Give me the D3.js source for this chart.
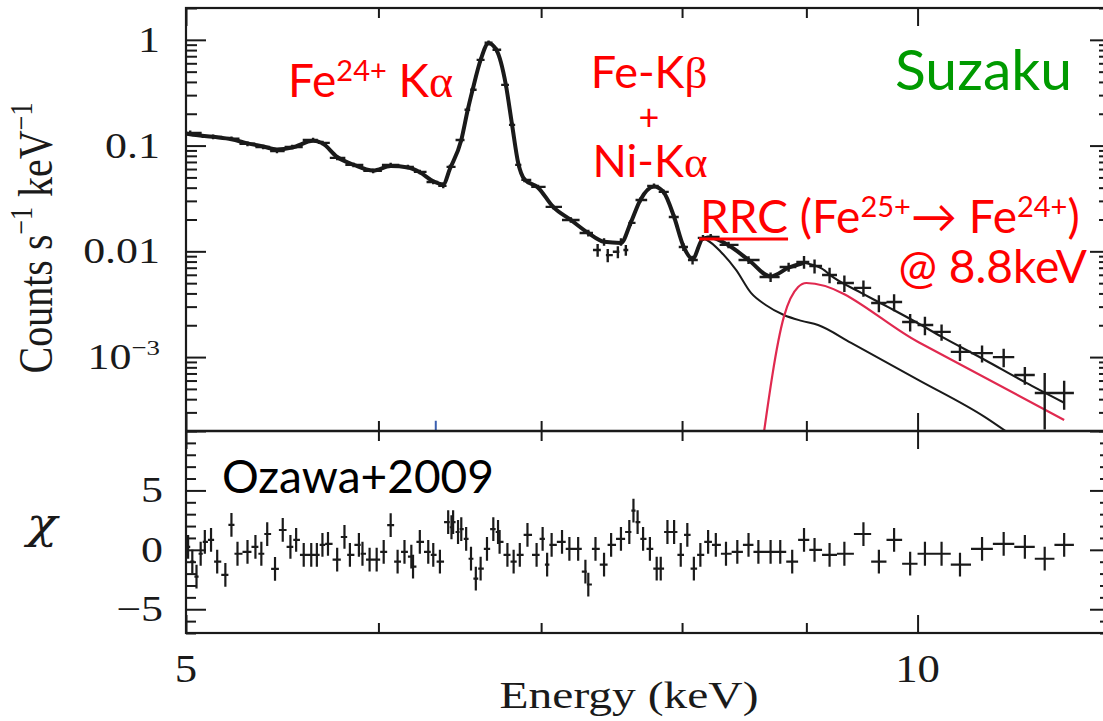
<!DOCTYPE html>
<html>
<head>
<meta charset="utf-8">
<script src="https://cdn.jsdelivr.net/npm/d3@7"></script>
<style>
body { margin:0; background:#fff; }
svg { display:block; }
</style>
</head>
<body>
<script>
// ---- spectrum data points (keV, counts s-1 keV-1, 1 sigma) ----
var dataE = [5.02, 5.13, 5.22, 5.30, 5.38, 5.45, 5.53, 5.64, 5.69, 5.77,
             5.86, 5.97, 6.07, 6.17, 6.24, 6.32, 6.38, 6.42, 6.49, 6.53,
             6.56, 6.61, 6.66, 6.71, 6.77, 6.81, 6.85, 6.89, 6.98, 7.08,
             7.20, 7.32, 7.385, 7.43, 7.456, 7.528, 7.55, 7.585, 7.62, 7.69,
             7.79, 7.86, 7.94, 8.01, 8.08, 8.16, 8.22, 8.36, 8.52, 8.70,
             8.85, 8.98, 9.07, 9.20, 9.33, 9.50, 9.64, 9.78, 9.93, 10.07,
             10.23, 10.41, 10.63, 10.85, 11.07, 11.28, 11.49];
var dataC = [0.132, 0.121, 0.116, 0.104, 0.097, 0.089, 0.097, 0.113, 0.106, 0.0765,
             0.0657, 0.0576, 0.0657, 0.0629, 0.0564, 0.0453, 0.0416, 0.0629, 0.113, 0.218,
             0.337, 0.647, 0.937, 0.805, 0.375, 0.157, 0.0657, 0.0474, 0.0407, 0.0263,
             0.0198, 0.0149, 0.0103, 0.0123, 0.0092, 0.0099, 0.0123, 0.0103, 0.0186, 0.0306,
             0.0416, 0.0365, 0.0211, 0.0110, 0.00829, 0.0134, 0.0137, 0.0115, 0.00829, 0.00572,
             0.00712, 0.00794, 0.00727, 0.00598, 0.00502, 0.00451, 0.00325, 0.00332, 0.00215, 0.00201,
             0.00173, 0.00112, 0.00109, 0.00100, 0.000677, 0.000457, 0.000457];
var dataErr = [0.0066, 0.0060, 0.0058, 0.0052, 0.0049, 0.0045, 0.0049, 0.0057, 0.0053, 0.0038,
               0.0033, 0.0029, 0.0033, 0.0031, 0.0028, 0.0023, 0.0021, 0.0031, 0.0057, 0.011,
               0.017, 0.032, 0.047, 0.040, 0.019, 0.0079, 0.0033, 0.0024, 0.0020, 0.0013,
               0.0012, 0.0011, 0.0014, 0.0010, 0.0013, 0.0013, 0.0010, 0.0012, 0.0012, 0.0017,
               0.0021, 0.0019, 0.0013, 0.0009, 0.0008, 0.0009, 0.0009, 0.0008, 0.0007, 0.0006,
               0.0007, 0.0011, 0.0011, 0.0010, 0.0009, 0.0008, 0.0006, 0.0006, 0.0004, 0.0004,
               0.0003, 0.0002, 0.0002, 0.0002, 0.00013, 0.00025, 0.00014];

// ---- best fit model (total) ----
var modelE = [5.00, 5.02, 5.13, 5.22, 5.30, 5.38, 5.45, 5.53, 5.64, 5.69,
              5.77, 5.86, 5.97, 6.07, 6.17, 6.24, 6.32, 6.38, 6.42, 6.49,
              6.53, 6.56, 6.61, 6.66, 6.71, 6.77, 6.81, 6.85, 6.89, 6.98,
              7.08, 7.20, 7.32, 7.43, 7.55, 7.62, 7.69, 7.79, 7.86, 7.94,
              8.01, 8.08, 8.16, 8.22, 8.36, 8.52, 8.70, 8.85, 8.98, 9.13,
              9.24, 9.48, 9.73, 10.0, 10.23, 10.65, 11.07, 11.49];
var modelC = [0.130, 0.128, 0.121, 0.115, 0.105, 0.098, 0.092, 0.096, 0.111, 0.105,
              0.078, 0.066, 0.058, 0.064, 0.062, 0.056, 0.046, 0.043, 0.060, 0.113,
              0.218, 0.337, 0.647, 0.930, 0.800, 0.375, 0.157, 0.068, 0.048, 0.040,
              0.0263, 0.0198, 0.0149, 0.0123, 0.0120, 0.0186, 0.0306, 0.0410, 0.0365, 0.0211,
              0.0112, 0.0085, 0.0132, 0.0135, 0.0114, 0.0083, 0.0058, 0.0070, 0.0078, 0.0069,
              0.0056, 0.00405, 0.00295, 0.00210, 0.00156, 0.00095, 0.00058, 0.00037];

// model without the RRC
var contE = [8.16, 8.19, 8.30, 8.42, 8.54, 8.66, 8.81, 8.96, 9.10, 9.39, 10.01, 10.66, 10.93];
var contC = [0.0132, 0.0128, 0.00987, 0.00667, 0.00404, 0.00311, 0.00250, 0.00220, 0.00201, 0.00136, 0.000607, 0.000271, 0.000183];

// RRC component (Fe25+ -> Fe24+)
var rrcE = [8.62, 8.81, 8.93, 9.00, 10.01, 11.49];
var rrcC = [0.00012, 0.0024, 0.0046, 0.00502, 0.00138, 0.000254];

// stray blue mark near the bottom of the upper panel
var blueE = [6.335];
var blueC = [0.00025];

// ---- residuals (chi) ----
var chiE = [5.01, 5.03, 5.05, 5.07, 5.09, 5.12, 5.15, 5.19, 5.22, 5.25,
            5.30, 5.34, 5.37, 5.40, 5.44, 5.48, 5.52, 5.55, 5.59, 5.63,
            5.66, 5.69, 5.72, 5.77, 5.81, 5.84, 5.89, 5.91, 5.95, 5.99,
            6.03, 6.07, 6.11, 6.15, 6.19, 6.20, 6.24, 6.29, 6.32, 6.36,
            6.41, 6.43, 6.44, 6.47, 6.49, 6.52, 6.55, 6.58, 6.61, 6.65,
            6.69, 6.72, 6.73, 6.78, 6.82, 6.86, 6.91, 6.97, 7.01, 7.04,
            7.07, 7.14, 7.19, 7.25, 7.30, 7.32, 7.37, 7.43, 7.48, 7.55,
            7.61, 7.64, 7.67, 7.71, 7.76, 7.81, 7.84, 7.89, 7.94, 7.99,
            8.04, 8.09, 8.14, 8.20, 8.26, 8.34, 8.43, 8.52, 8.60, 8.70,
            8.78, 8.88, 8.98, 9.07, 9.20, 9.33, 9.50, 9.64, 9.78, 9.93,
            10.07, 10.23, 10.41, 10.63, 10.85, 11.07, 11.28, 11.49];
var chiV = [0.25, -1.0, -2.25, -0.33, 0.67, 0.83, -1.0, -2.1, 2.1, -0.33,
            -0.17, 0.25, -0.33, 1.33, -1.6, 1.67, 0.25, 0.83, -0.42, -0.42,
            -0.42, 0.42, 0.5, -0.83, 1.08, -0.42, 0.42, -0.33, -0.83, -0.83,
            -0.17, 2.08, -1.0, -0.17, -0.58, -1.42, 0.67, -0.17, -0.42, -1.0,
            2.33, 1.9, 2.33, 1.5, 1.75, 0.92, -0.75, -2.42, -1.58, 0.08,
            1.75, 1.5, 0.67, -0.42, -1.0, -0.42, 1.25, -0.42, 0.92, -1.25,
            0.42, 0.67, 0.08, 0.08, -1.83, -2.92, 0.08, -1.25, 0.42, 0.92,
            1.5, 3.3, 2.33, 0.92, 0.08, -1.58, -1.58, 1.5, 1.5, -0.42,
            1.25, -1.58, -0.42, 0.67, 0.42, -0.33, -0.17, 0.42, -0.17, -0.17,
            -0.17, -1.0, 0.83, 0.0, -0.42, -0.33, 1.33, -1.0, 0.83, -1.17,
            -0.33, -0.33, -1.25, 0.08, 0.5, 0.25, -0.75, 0.42];

// ---- tick labels ----
var xMajor = [5, 10];
var xMinor = [6, 7, 8, 9];
var yLabelVals = [1, 0.1, 0.01, 0.001];
var yLabelText = ["1", "0.1", "0.01", "10"];
var yLabelSup = ["", "", "", "\u22123"];
var chiLabelVals = [5, 0, -5];
var chiLabelText = ["5", "0", "\u22125"];

var width = 1103;
var height = 721;
var left = 186, right = 1110, top1 = 8, mid = 431, bottom = 633;
var ink = "#1a1a1a";
var serif = "'Liberation Serif', 'Times New Roman', serif";
var sans = "Lato, 'Open Sans', sans-serif";
var denseEnd = 8.98; // below this the data points merge into a heavy line

var svg = d3.select("body").append("svg")
    .attr("width", width)
    .attr("height", height);

var x = d3.scaleLog().domain([5, 12]).range([left, right]);
var yTop = d3.scaleLog().domain([2e-4, 2]).range([mid, top1]);
var yChi = d3.scaleLinear().domain([-7, 10]).range([bottom, mid]);

var defs = svg.append("defs");
defs.append("clipPath").attr("id", "clipTop").append("rect")
    .attr("x", left).attr("y", top1).attr("width", right - left).attr("height", mid - top1);
defs.append("clipPath").attr("id", "clipBot").append("rect")
    .attr("x", left).attr("y", mid).attr("width", right - left).attr("height", bottom - mid);

// geometric bin edges from neighbouring energies
var binEdges = function(es) {
  return es.map(function(e, i) {
    var prev = i > 0 ? es[i - 1] : e * e / es[i + 1];
    var next = i < es.length - 1 ? es[i + 1] : e * e / es[i - 1];
    return [Math.sqrt(prev * e), Math.sqrt(e * next)];
  });
};

// path of crosses: horizontal bin bar + vertical error bar
var crossPath = function(es, vals, lows, highs, yScale) {
  var edges = binEdges(es);
  var p = "";
  es.forEach(function(e, i) {
    var yc = yScale(vals[i]);
    p += "M" + x(edges[i][0]) + "," + yc + "H" + x(edges[i][1]);
    p += "M" + x(e) + "," + yScale(lows[i]) + "V" + yScale(highs[i]);
  });
  return p;
};

// ---- upper panel ----
var topG = svg.append("g").attr("clip-path", "url(#clipTop)");

var line = d3.line()
    .x(function(d) { return x(d[0]); })
    .y(function(d) { return yTop(d[1]); })
    .curve(d3.curveMonotoneX);

topG.append("path")
    .attr("d", line(d3.zip(contE, contC)))
    .attr("fill", "none").attr("stroke", ink).attr("stroke-width", 2);

topG.append("path")
    .attr("d", line(d3.zip(rrcE, rrcC)))
    .attr("fill", "none").attr("stroke", "#e0294f").attr("stroke-width", 2.2);

var model = d3.zip(modelE, modelC);
topG.append("path")
    .attr("d", line(model.filter(function(d) { return d[0] <= denseEnd; })))
    .attr("fill", "none").attr("stroke", ink).attr("stroke-width", 4)
    .attr("stroke-linejoin", "round");
topG.append("path")
    .attr("d", line(model.filter(function(d) { return d[0] >= denseEnd; })))
    .attr("fill", "none").attr("stroke", ink).attr("stroke-width", 2.2);

var dataLo = dataC.map(function(c, i) { return Math.max(c - dataErr[i], 1e-5); });
var dataHi = dataC.map(function(c, i) { return c + dataErr[i]; });
topG.append("path")
    .attr("d", crossPath(dataE, dataC, dataLo, dataHi, yTop))
    .attr("fill", "none").attr("stroke", ink).attr("stroke-width", 2.4);

topG.selectAll(".blue")
    .data(blueE)
    .enter()
    .append("line")
    .attr("x1", function(d) { return x(d); })
    .attr("x2", function(d) { return x(d); })
    .attr("y1", function(d, i) { return yTop(blueC[i]); })
    .attr("y2", mid)
    .attr("stroke", "#3a5fb0").attr("stroke-width", 2);

// ---- lower panel: residuals (error on chi is 1) ----
var chiLo = chiV.map(function(v) { return v - 1; });
var chiHi = chiV.map(function(v) { return v + 1; });
svg.append("g").attr("clip-path", "url(#clipBot)")
    .append("path")
    .attr("d", crossPath(chiE, chiV, chiLo, chiHi, yChi))
    .attr("fill", "none").attr("stroke", ink).attr("stroke-width", 2.2);

// ---- frames and ticks ----
var addAxis = function(axis, tx, ty) {
  var g = svg.append("g")
      .attr("transform", "translate(" + tx + "," + ty + ")")
      .call(axis);
  g.select(".domain").remove();
  g.selectAll("text").remove();
  g.selectAll("line").attr("stroke", ink).attr("stroke-width", 2);
  return g;
};

var isDecade = function(v) {
  var l = Math.log10(v);
  return Math.abs(l - Math.round(l)) < 1e-6;
};
var yTicks = yTop.ticks();
var yMaj = yTicks.filter(isDecade);
var yMin = yTicks.filter(function(v) { return !isDecade(v); });
var chiTicks = d3.range(-7, 11);
var chiMaj = chiTicks.filter(function(v) { return v % 5 === 0; });
var chiMin = chiTicks.filter(function(v) { return v % 5 !== 0; });

addAxis(d3.axisLeft(yTop).tickValues(yMaj).tickSize(-20), left, 0);
addAxis(d3.axisLeft(yTop).tickValues(yMin).tickSize(-11), left, 0);
addAxis(d3.axisRight(yTop).tickValues(yMaj).tickSize(-20), right, 0);
addAxis(d3.axisRight(yTop).tickValues(yMin).tickSize(-11), right, 0);
addAxis(d3.axisLeft(yChi).tickValues(chiMaj).tickSize(-20), left, 0);
addAxis(d3.axisLeft(yChi).tickValues(chiMin).tickSize(-10), left, 0);
addAxis(d3.axisRight(yChi).tickValues(chiMaj).tickSize(-20), right, 0);
addAxis(d3.axisRight(yChi).tickValues(chiMin).tickSize(-10), right, 0);

[[top1, d3.axisTop], [mid, d3.axisBottom], [mid, d3.axisTop], [bottom, d3.axisBottom]].forEach(function(a) {
  addAxis(a[1](x).tickValues(xMajor).tickSize(-18), 0, a[0]);
  addAxis(a[1](x).tickValues(xMinor).tickSize(-10), 0, a[0]);
});

svg.append("rect")
    .attr("x", left).attr("y", top1).attr("width", right - left).attr("height", bottom - top1)
    .attr("fill", "none").attr("stroke", ink).attr("stroke-width", 2.2);
svg.append("line")
    .attr("x1", left).attr("x2", right).attr("y1", mid).attr("y2", mid)
    .attr("stroke", ink).attr("stroke-width", 2.6);

// ---- tick labels (serif, slightly stretched like the scanned figure) ----
yLabelVals.forEach(function(v, i) {
  var t = svg.append("text")
      .attr("transform", "translate(160," + (yTop(v) + 12) + ") scale(1.22,1)")
      .attr("text-anchor", "end")
      .attr("fill", ink)
      .style("font-family", serif).style("font-size", "36px");
  t.append("tspan").text(yLabelText[i]);
  if (yLabelSup[i] !== "") {
    t.append("tspan").attr("dy", -14).style("font-size", "22px").text(yLabelSup[i]);
  }
});

chiLabelVals.forEach(function(v, i) {
  svg.append("text")
      .attr("transform", "translate(163," + (yChi(v) + 12) + ") scale(1.22,1)")
      .attr("text-anchor", "end")
      .attr("fill", ink)
      .style("font-family", serif).style("font-size", "36px")
      .text(chiLabelText[i]);
});

xMajor.forEach(function(v) {
  svg.append("text")
      .attr("transform", "translate(" + x(v) + ",682) scale(1.12,1)")
      .attr("text-anchor", "middle")
      .attr("fill", ink)
      .style("font-family", serif).style("font-size", "40px")
      .text(v);
});

svg.append("text")
    .attr("transform", "translate(629,708) scale(1.25,1)")
    .attr("text-anchor", "middle")
    .attr("fill", ink)
    .style("font-family", serif).style("font-size", "38px")
    .text("Energy (keV)");

var yl = svg.append("text")
    .attr("transform", "translate(52,238) rotate(-90) scale(1,1.22)")
    .attr("text-anchor", "middle")
    .attr("fill", ink)
    .style("font-family", serif).style("font-size", "40px");
yl.append("tspan").text("Counts s");
yl.append("tspan").attr("dy", -16).style("font-size", "26px").text("\u22121");
yl.append("tspan").attr("dy", 16).text(" keV");
yl.append("tspan").attr("dy", -16).style("font-size", "26px").text("\u22121");

svg.append("text")
    .attr("transform", "translate(42,538) scale(1.2,1)")
    .attr("text-anchor", "middle")
    .attr("fill", ink)
    .style("font-family", "'DejaVu Serif', serif").style("font-style", "italic").style("font-size", "42px")
    .text("\u03c7");

// ---- annotations ----
var red = "#ff0000";
var sup = function(t, s) {
  t.append("tspan").attr("dy", -16).style("font-size", "29px").text(s);
};

var fe = svg.append("text").attr("x", 288).attr("y", 97)
    .attr("fill", red).style("font-family", sans).style("font-size", "46px");
fe.append("tspan").text("Fe");
sup(fe, "24+");
fe.append("tspan").attr("dy", 16).text(" K");
fe.append("tspan").style("font-family", serif).text("\u03b1");

var kb = svg.append("text").attr("x", 649).attr("y", 88).attr("text-anchor", "middle")
    .attr("fill", red).style("font-family", sans).style("font-size", "45px");
kb.append("tspan").text("Fe-K");
kb.append("tspan").style("font-family", serif).text("\u03b2");

svg.append("text").attr("x", 649).attr("y", 130).attr("text-anchor", "middle")
    .attr("fill", red).style("font-family", sans).style("font-size", "36px")
    .text("+");

var ni = svg.append("text").attr("x", 650).attr("y", 177).attr("text-anchor", "middle")
    .attr("fill", red).style("font-family", sans).style("font-size", "45px");
ni.append("tspan").text("Ni-K");
ni.append("tspan").style("font-family", serif).text("\u03b1");

var rrc = svg.append("text").attr("x", 700).attr("y", 233)
    .attr("fill", red).style("font-family", sans).style("font-size", "46px");
rrc.append("tspan").text("RRC");
rrc.append("tspan").text(" (Fe");
sup(rrc, "25+");
rrc.append("tspan").attr("dy", 16).text("\u2192 Fe");
sup(rrc, "24+");
rrc.append("tspan").attr("dy", 16).text(")");
var rrcW = rrc.node().getSubStringLength(0, 3);
svg.append("line")
    .attr("x1", 699).attr("x2", 700 + rrcW).attr("y1", 239).attr("y2", 239)
    .attr("stroke", red).attr("stroke-width", 3);

svg.append("text").attr("x", 1087).attr("y", 283).attr("text-anchor", "end")
    .attr("fill", red).style("font-family", sans).style("font-size", "46px")
    .text("@ 8.8keV");

svg.append("text").attr("x", 895).attr("y", 90)
    .attr("fill", "#009a00").style("font-family", sans).style("font-size", "57px")
    .text("Suzaku");

svg.append("text").attr("x", 222).attr("y", 493)
    .attr("fill", "#000").style("font-family", sans).style("font-size", "46px")
    .text("Ozawa+2009");
</script>
</body>
</html>
